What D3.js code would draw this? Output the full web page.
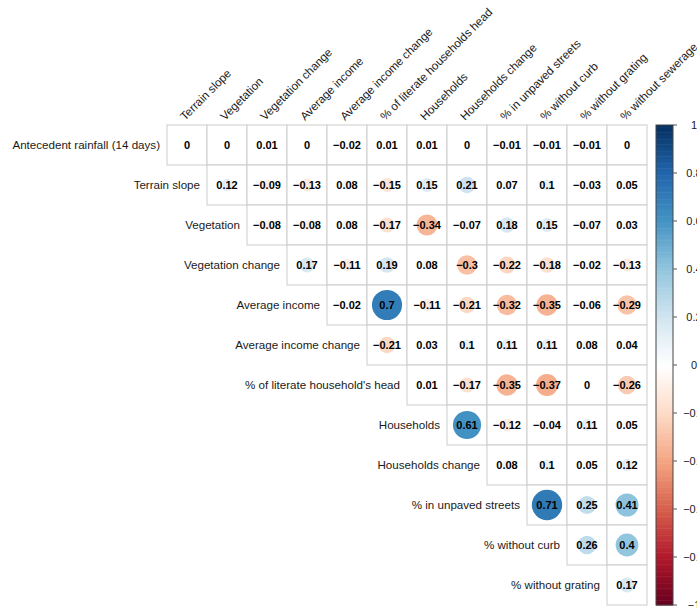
<!DOCTYPE html>
<html>
    <script src="https://d3js.org/d3.v7.min.js"></script>
    <head>
        <style>
            body { margin: 0; background: #fff; }
            text { font-family: "Liberation Sans", Arial, sans-serif; }
        </style>
    </head>
    <body>
        <svg id="corr"></svg>

        <script>
            const rowLabels = ["Antecedent rainfall (14 days)", "Terrain slope", "Vegetation", "Vegetation change",
                "Average income", "Average income change", "% of literate household's head", "Households",
                "Households change", "% in unpaved streets", "% without curb", "% without grating"];
            const colLabels = ["Terrain slope", "Vegetation", "Vegetation change", "Average income",
                "Average income change", "% of literate households head", "Households", "Households change",
                "% in unpaved streets", "% without curb", "% without grating", "% without sewerage"];

            // row i holds the values for columns i .. 11 (upper triangle)
            const corrRows = [
                [0, 0, 0.01, 0, -0.02, 0.01, 0.01, 0, -0.01, -0.01, -0.01, 0],
                [0.12, -0.09, -0.13, 0.08, -0.15, 0.15, 0.21, 0.07, 0.1, -0.03, 0.05],
                [-0.08, -0.08, 0.08, -0.17, -0.34, -0.07, 0.18, 0.15, -0.07, 0.03],
                [0.17, -0.11, 0.19, 0.08, -0.3, -0.22, -0.18, -0.02, -0.13],
                [-0.02, 0.7, -0.11, -0.21, -0.32, -0.35, -0.06, -0.29],
                [-0.21, 0.03, 0.1, 0.11, 0.11, 0.08, 0.04],
                [0.01, -0.17, -0.35, -0.37, 0, -0.26],
                [0.61, -0.12, -0.04, 0.11, 0.05],
                [0.08, 0.1, 0.05, 0.12],
                [0.71, 0.25, 0.41],
                [0.26, 0.4],
                [0.17]
            ];
            const legendTicks = [1, 0.8, 0.6, 0.4, 0.2, 0, -0.2, -0.4, -0.6, -0.8, -1];
            const palette = ["#67001F", "#B2182B", "#D6604D", "#F4A582", "#FDDBC7", "#FFFFFF",
                "#D1E5F0", "#92C5DE", "#4393C3", "#2166AC", "#053061"];

            const width = 697, height = 608;
            const grid = { left: 167, right: 647, top: 125, bottom: 605 };

            const x_scale = d3.scaleBand().domain(colLabels).range([grid.left, grid.right]);
            const y_scale = d3.scaleBand().domain(rowLabels).range([grid.top, grid.bottom]);
            const color = d3.scaleLinear().domain(d3.range(11).map(i => -1 + i * 0.2)).range(palette);
            const cell = x_scale.bandwidth();

            const cells = [];
            corrRows.forEach((vals, i) => {
                vals.forEach((v, k) => cells.push({ row: rowLabels[i], col: colLabels[i + k], r: v }));
            });

            const fmt = v => (v < 0 ? "\u2212" : "") + String(Math.abs(v));

            const svg = d3.select("#corr")
                .attr("viewBox", [0, 0, width, height])
                .attr("width", width)
                .attr("height", height);

            // cells
            const g = svg.append("g");
            g.selectAll("rect.cell")
                .data(cells)
                .join("rect")
                .attr("class", "cell")
                .attr("x", d => x_scale(d.col))
                .attr("y", d => y_scale(d.row))
                .attr("width", cell)
                .attr("height", y_scale.bandwidth())
                .attr("fill", "#fff")
                .attr("stroke", "#cccccc")
                .attr("stroke-width", 1);

            g.selectAll("circle")
                .data(cells)
                .join("circle")
                .attr("cx", d => x_scale(d.col) + cell / 2)
                .attr("cy", d => y_scale(d.row) + y_scale.bandwidth() / 2)
                .attr("r", d => Math.sqrt(Math.abs(d.r)) * cell * 0.45)
                .attr("fill", d => color(d.r));

            g.selectAll("text.num")
                .data(cells)
                .join("text")
                .attr("class", "num")
                .attr("x", d => x_scale(d.col) + cell / 2)
                .attr("y", d => y_scale(d.row) + y_scale.bandwidth() / 2)
                .attr("dy", "0.36em")
                .attr("text-anchor", "middle")
                .attr("font-size", 11)
                .attr("font-weight", "bold")
                .attr("fill", "#000")
                .text(d => fmt(d.r));

            // row labels
            svg.append("g").selectAll("text")
                .data(rowLabels)
                .join("text")
                .attr("x", (d, i) => x_scale(colLabels[i]) - 7)
                .attr("y", d => y_scale(d) + y_scale.bandwidth() / 2)
                .attr("dy", "0.36em")
                .attr("text-anchor", "end")
                .attr("font-size", 11.6)
                .attr("fill", "#1a1a1a")
                .text(d => d);

            // column labels
            svg.append("g").selectAll("text")
                .data(colLabels)
                .join("text")
                .attr("transform", d => `translate(${x_scale(d) + cell / 2 - 2},${grid.top - 4}) rotate(-45)`)
                .attr("font-size", 11.6)
                .attr("fill", "#1a1a1a")
                .text(d => d);

            // colour legend
            const legend = { x: 656, w: 17 };
            const ly = d3.scaleLinear().domain([-1, 1]).range([grid.bottom, grid.top]);
            const steps = d3.range(200).map(i => -1 + (i + 0.5) * 0.01);
            svg.append("g").selectAll("rect")
                .data(steps)
                .join("rect")
                .attr("x", legend.x)
                .attr("y", d => ly(d + 0.005))
                .attr("width", legend.w)
                .attr("height", ly(-1) - ly(-0.99) + 0.5)
                .attr("fill", d => color(d));
            svg.append("rect")
                .attr("x", legend.x)
                .attr("y", grid.top)
                .attr("width", legend.w)
                .attr("height", grid.bottom - grid.top)
                .attr("fill", "none")
                .attr("stroke", "#444")
                .attr("stroke-width", 1);

            const lt = svg.append("g");
            lt.selectAll("line")
                .data(legendTicks)
                .join("line")
                .attr("x1", legend.x + legend.w)
                .attr("x2", legend.x + legend.w + 4)
                .attr("y1", d => ly(d))
                .attr("y2", d => ly(d))
                .attr("stroke", "#555");
            lt.selectAll("text")
                .data(legendTicks)
                .join("text")
                .attr("x", 694)
                .attr("y", d => ly(d))
                .attr("dy", "0.36em")
                .attr("text-anchor", "middle")
                .attr("font-size", 11)
                .attr("fill", "#1a1a1a")
                .text(d => fmt(d));
        </script>
    </body>
</html>
